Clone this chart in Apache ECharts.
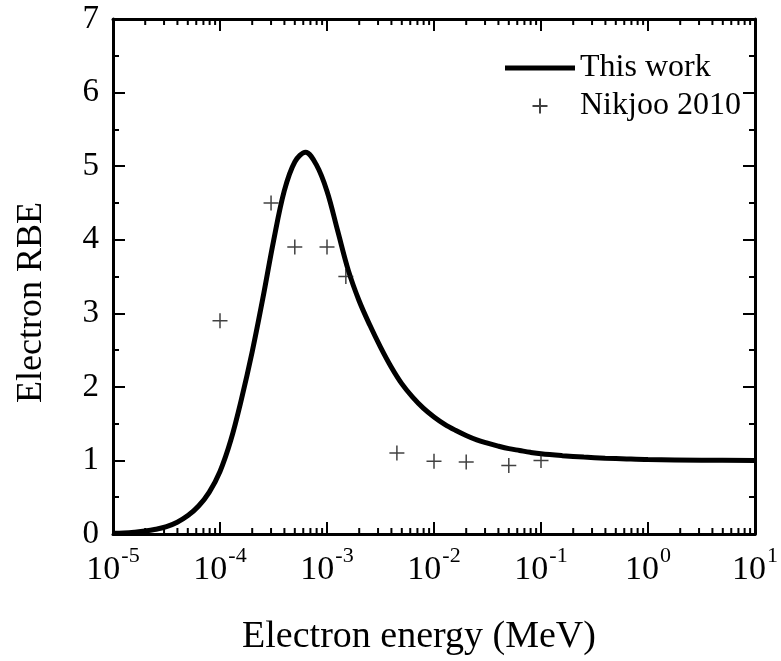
<!DOCTYPE html>
<html>
<head>
<meta charset="utf-8">
<script src="https://cdn.jsdelivr.net/npm/echarts@6/dist/echarts.min.js"></script>
<style>
html,body{margin:0;padding:0;background:#fff;}
#chart{width:781px;height:661px;}
</style>
</head>
<body>
<div id="chart"></div>
<script>
// ---- data ----
var curveEnergy = [
  1e-5, 1.259e-5, 1.585e-5, 1.995e-5, 2.512e-5, 3.162e-5, 3.981e-5, 5.012e-5, 6.31e-5, 7.943e-5,
  1e-4, 1.259e-4, 1.585e-4, 1.995e-4, 2.512e-4, 3.162e-4, 3.981e-4, 5.012e-4, 6.31e-4, 7.943e-4,
  1e-3, 1.259e-3, 1.585e-3, 1.995e-3, 2.512e-3, 3.162e-3, 3.981e-3, 5.012e-3, 6.31e-3, 7.943e-3,
  1e-2, 1.259e-2, 1.585e-2, 1.995e-2, 2.512e-2, 3.162e-2, 3.981e-2, 5.012e-2, 6.31e-2, 7.943e-2,
  0.1, 0.1585, 0.2512, 0.3981, 0.631, 1, 3.162, 10];
var curveRBE = [
  0.01, 0.015, 0.025, 0.04, 0.065, 0.10, 0.16, 0.25, 0.38, 0.57,
  0.85, 1.27, 1.83, 2.47, 3.20, 3.98, 4.66, 5.06, 5.19, 5.02,
  4.66, 4.12, 3.58, 3.17, 2.84, 2.54, 2.27, 2.04, 1.86, 1.71,
  1.59, 1.49, 1.41, 1.34, 1.28, 1.235, 1.195, 1.16, 1.135, 1.11,
  1.09, 1.065, 1.045, 1.03, 1.02, 1.012, 1.003, 1.0];
var nikjooEnergy = [1e-4, 3e-4, 5e-4, 1e-3, 1.5e-3, 4.5e-3, 1e-2, 2e-2, 5e-2, 0.1];
var nikjooRBE    = [2.9, 4.5, 3.9, 3.9, 3.5, 1.1, 0.99, 0.98, 0.93, 1.0];
var seriesNames = ['This work', 'Nikjoo 2010'];
var xTitle = 'Electron energy (MeV)';
var yTitle = 'Electron RBE';
var xMin = 1e-5, xMax = 10;
var yMin = 0, yMax = 7;
var minorFactors = [2, 3, 4, 5, 6, 7, 8, 9];
var decades = [1e-5, 1e-4, 1e-3, 1e-2, 1e-1, 1];

var minorTicks = [];
decades.forEach(function (d) { minorFactors.forEach(function (f) { minorTicks.push([d * f]); }); });

var FONT = "'Liberation Serif', 'Times New Roman', serif";

function zip(a, b) { return a.map(function (v, i) { return [v, b[i]]; }); }

var chart = echarts.init(document.getElementById('chart'), null, {renderer: 'canvas'});

var xLabel = {
  show: true,
  margin: 11,
  fontFamily: FONT,
  color: '#000',
  formatter: function (v) {
    var e = Math.round(Math.log10(v));
    return '{b|10}{s|' + e + '}';
  },
  rich: {
    b: {fontSize: 34, fontFamily: FONT, color: '#000', lineHeight: 42, verticalAlign: 'bottom'},
    s: {fontSize: 22, fontFamily: FONT, color: '#000', lineHeight: 42, verticalAlign: 'top', padding: [0, 0, 0, 1]}
  }
};

var axisLine = {show: true, onZero: false, lineStyle: {color: '#000', width: 3}};

var option = {
  animation: false,
  backgroundColor: '#fff',
  grid: {left: 113, top: 19, right: 25, bottom: 117, containLabel: false},
  legend: {
    data: [
      {name: seriesNames[0], icon: 'path://M0,0L70,0L70,5L0,5Z'},
      {name: seriesNames[1]}
    ],
    orient: 'vertical',
    left: 500,
    top: 47,
    itemWidth: 70,
    itemHeight: 15,
    itemGap: 6,
    textStyle: {fontFamily: FONT, fontSize: 32, color: '#000', padding: [0, 0, 0, 0]},
    selectedMode: false
  },
  xAxis: [
    {
      type: 'log', logBase: 10, min: xMin, max: xMax, splitNumber: 6,
      position: 'bottom',
      name: xTitle, nameLocation: 'middle', nameGap: 84,
      nameTextStyle: {fontFamily: FONT, fontSize: 38, color: '#000', padding: [0, 30, 0, 0]},
      axisLine: axisLine,
      axisTick: {show: true, inside: true, length: 12, lineStyle: {color: '#000', width: 2}},
      minorTick: {show: false},
      axisLabel: xLabel,
      splitLine: {show: false}
    },
    {
      type: 'log', logBase: 10, min: xMin, max: xMax, splitNumber: 6,
      position: 'top',
      axisLine: axisLine,
      axisTick: {show: true, inside: true, length: 12, lineStyle: {color: '#000', width: 2}},
      axisLabel: {show: false},
      splitLine: {show: false}
    }
  ],
  yAxis: [
    {
      type: 'value', min: yMin, max: yMax, interval: 1,
      position: 'left',
      name: yTitle, nameLocation: 'middle', nameGap: 63, nameRotate: 90,
      nameTextStyle: {fontFamily: FONT, fontSize: 36, color: '#000', padding: [0, 52, 0, 0]},
      axisLine: axisLine,
      axisTick: {show: true, inside: true, length: 12, lineStyle: {color: '#000', width: 2}},
      minorTick: {show: true, splitNumber: 2, length: 6, lineStyle: {color: '#000', width: 2}},
      axisLabel: {show: true, margin: 14, fontFamily: FONT, fontSize: 33, color: '#000'},
      splitLine: {show: false}
    },
    {
      type: 'value', min: yMin, max: yMax, interval: 1,
      position: 'right',
      axisLine: axisLine,
      axisTick: {show: true, inside: true, length: 12, lineStyle: {color: '#000', width: 2}},
      minorTick: {show: true, splitNumber: 2, length: 6, lineStyle: {color: '#000', width: 2}},
      axisLabel: {show: false},
      splitLine: {show: false}
    }
  ],
  series: [
    {
      name: seriesNames[0],
      type: 'line',
      xAxisIndex: 0, yAxisIndex: 0,
      data: zip(curveEnergy, curveRBE),
      smooth: 0.35,
      showSymbol: false,
      symbol: 'none',
      lineStyle: {color: '#000', width: 5},
      itemStyle: {color: '#000'},
      z: 3
    },
    {
      name: seriesNames[1],
      type: 'scatter',
      xAxisIndex: 0, yAxisIndex: 0,
      data: zip(nikjooEnergy, nikjooRBE),
      symbol: 'path://M0,5L10,5M5,0L5,10',
      symbolSize: 15,
      itemStyle: {color: 'none', borderColor: '#111', borderWidth: 1.5},
      z: 4
    },
    {
      type: 'custom',
      xAxisIndex: 0, yAxisIndex: 0,
      data: minorTicks,
      silent: true,
      renderItem: function (params, api) {
        var cs = params.coordSys;
        var x = api.coord([api.value(0), 1])[0];
        var yb = cs.y + cs.height, yt = cs.y;
        var st = {stroke: '#000', lineWidth: 2};
        return {
          type: 'group',
          children: [
            {type: 'line', shape: {x1: x, y1: yb, x2: x, y2: yb - 6}, style: st},
            {type: 'line', shape: {x1: x, y1: yt, x2: x, y2: yt + 6}, style: st}
          ]
        };
      },
      z: 5
    }
  ]
};
chart.setOption(option);
</script>
</body>
</html>
